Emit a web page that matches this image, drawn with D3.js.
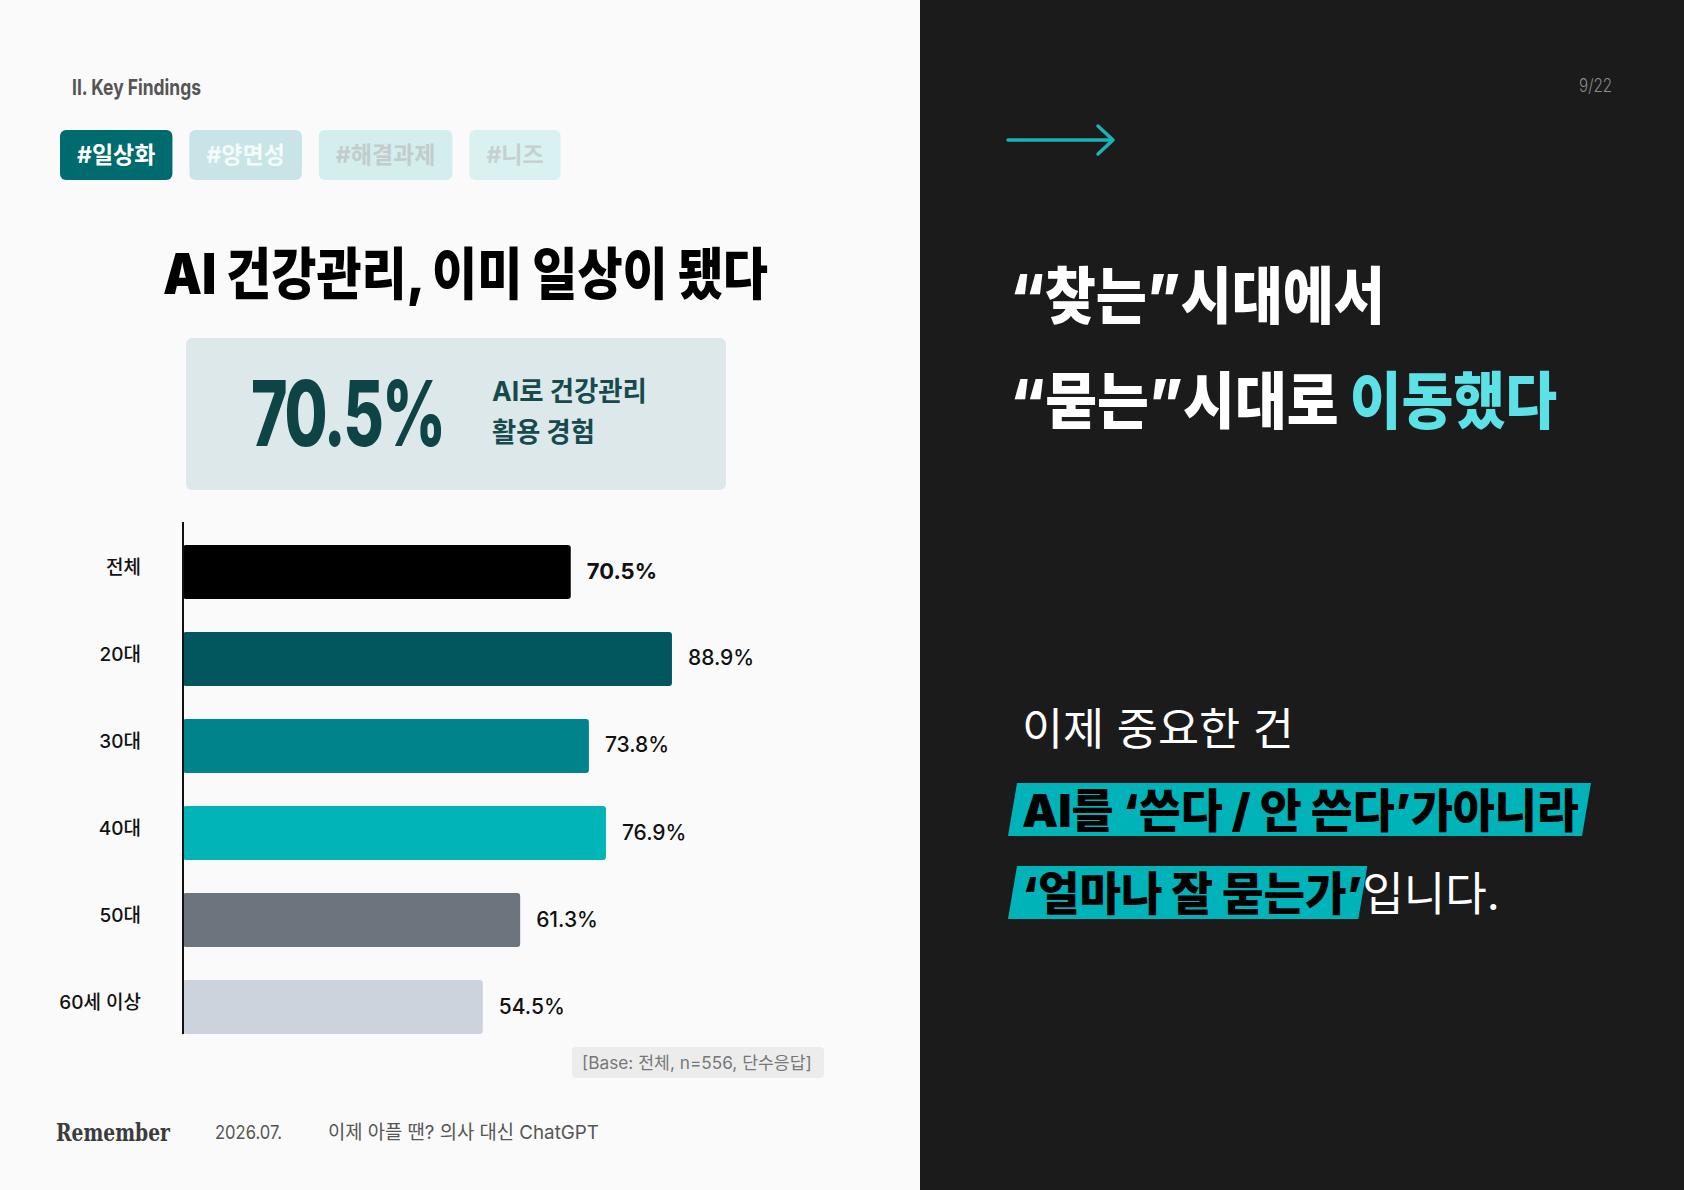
<!DOCTYPE html>
<html lang="ko">
<head>
<meta charset="utf-8">
<script src="https://cdn.jsdelivr.net/npm/d3@7"></script>
<style>
	html, body { margin: 0; padding: 0; background: #fafafa; }
	svg { display: block; }
	text { font-family: Inter, "Noto Sans CJK KR", sans-serif; }
</style>
</head>
<body>
<svg id="slide" width="1684" height="1190"></svg>
<script>
var section = "II. Key Findings";
var page = "9/22";
var tags = ["#일상화", "#양면성", "#해결과제", "#니즈"];
var title = "AI 건강관리, 이미 일상이 됐다";
var headline = "70.5%";
var headlineDesc = ["AI로 건강관리", "활용 경험"];
var categories = ["전체", "20대", "30대", "40대", "50대", "60세 이상"];
var values = [70.5, 88.9, 73.8, 76.9, 61.3, 54.5];
var baseNote = "[Base: 전체, n=556, 단수응답]";
var footer = ["Remember", "2026.07.", "이제 아플 땐? 의사 대신 ChatGPT"];
var shiftLines = [["“찾는”시대에서", ""], ["“묻는”시대로 ", "이동했다"]];
var point = ["이제 중요한 건", "AI를 ‘쓴다 / 안 쓴다’가아니라", "‘얼마나 잘 묻는가’", "입니다."];

var palette = ["#000000", "#02565e", "#00838a", "#00b4b8", "#6c747e", "#ccd3dd"];
var tagStyle = [
	{ bg: "#006b6e", fg: "#ffffff" },
	{ bg: "#c8e4e6", fg: "#f4fbfb" },
	{ bg: "#d4eeee", fg: "#c2cccc" },
	{ bg: "#d9f1f1", fg: "#c6d0d0" }
];

var svg = d3.select("#slide");

// squeeze a text element horizontally to a target width (condensed look)
function fit(t, x, y, len)	{
	var sx = len ? len / t.node().getComputedTextLength() : 1;
	t.attr("transform", `translate(${x},${y}) scale(${sx},1)`);
	return sx;
}

// text helper -- o: { size, weight, fill, anchor, len, family, ls }
function put(parent, s, x, y, o)	{
	var t = parent.append("text")
		.attr("x", 0).attr("y", 0)
		.attr("dominant-baseline", "central")
		.attr("font-size", o.size)
		.attr("font-weight", o.weight || 400)
		.attr("fill", o.fill || "#000")
		.attr("text-anchor", o.anchor || "start")
		.text(s);
	if(o.family)
		t.style("font-family", o.family);
	if(o.ls)
		t.attr("letter-spacing", o.ls);
	fit(t, x, y, o.len);
	return t;
}

// panels
svg.append("rect").attr("x", 0).attr("y", 0).attr("width", 920).attr("height", 1190).attr("fill", "#fafafa");
svg.append("rect").attr("x", 920).attr("y", 0).attr("width", 764).attr("height", 1190).attr("fill", "#1b1b1b");

// ---------- left side ----------
put(svg, section, 72, 87, { size: 22, weight: 700, fill: "#555", len: 129 });

var tx = 60;
tags.forEach((d, i) => {
	var g = svg.append("g");
	var r = g.append("rect");
	var t = put(g, d, 0, 155, { size: 23, weight: 700, fill: tagStyle[i].fg, anchor: "middle" });
	var w = t.node().getComputedTextLength() + 34;
	r.attr("x", tx).attr("y", 130).attr("width", w).attr("height", 50).attr("rx", 6).attr("fill", tagStyle[i].bg);
	fit(t, tx + w / 2, 155);
	tx += w + 17;
});

put(svg, title, 163, 274, { size: 56, weight: 900, fill: "#000", len: 605 });

svg.append("rect").attr("x", 186).attr("y", 338).attr("width", 540).attr("height", 152)
	.attr("rx", 6).attr("fill", "#dce8ea");
put(svg, headline, 251, 413, { size: 90, weight: 800, fill: "#0f4446", len: 193, ls: -3 });
put(svg, headlineDesc[0], 492, 391, { size: 27, weight: 700, fill: "#174a4d", len: 155 });
put(svg, headlineDesc[1], 492, 432, { size: 27, weight: 700, fill: "#174a4d", len: 103 });

// bar chart
var x = d3.scaleLinear([0, 100], [183, 733]);
var y = d3.scaleBand(categories, [545, 1034]).paddingInner(0.38).paddingOuter(0);
var color = d3.scaleOrdinal(categories, palette);

var chart = svg.append("g").attr("class", "chart");

chart.selectAll(".bar")
	.data(categories)
	.join("rect")
		.attr("class", "bar")
		.attr("x", x(0))
		.attr("y", c => y(c))
		.attr("width", (c, i) => x(values[i]) - x(0))
		.attr("height", y.bandwidth())
		.attr("rx", 3)
		.attr("fill", c => color(c));

chart.selectAll(".val")
	.data(categories)
	.join("text")
		.attr("class", "val")
		.attr("x", (c, i) => x(values[i]) + 16)
		.attr("y", c => y(c) + y.bandwidth() / 2 - 1)
		.attr("dominant-baseline", "central")
		.attr("font-size", (c, i) => i === 0 ? 22 : 21)
		.attr("font-weight", (c, i) => i === 0 ? 700 : 500)
		.attr("fill", "#111")
		.text((c, i) => values[i] + "%");

var yaxis = chart.append("g")
	.attr("class", "yaxis")
	.attr("transform", `translate(${x(0)},0)`)
	.call(d3.axisLeft(y).tickSize(0).tickPadding(42));
yaxis.select(".domain").remove();
yaxis.selectAll("text")
	.attr("y", -4)
	.attr("font-size", 19)
	.attr("font-weight", 500)
	.attr("fill", "#111")
	.style("font-family", 'Inter, "Noto Sans CJK KR", sans-serif');

chart.append("line")
	.attr("x1", x(0)).attr("x2", x(0))
	.attr("y1", 522).attr("y2", y.range()[1])
	.attr("stroke", "#111").attr("stroke-width", 2);

// base note
svg.append("rect").attr("x", 572).attr("y", 1047).attr("width", 252).attr("height", 31)
	.attr("rx", 4).attr("fill", "#ececec");
put(svg, baseNote, 582, 1063, { size: 17, fill: "#777", len: 230 });

// footer
put(svg, footer[0], 56, 1132, { size: 25, weight: 700, fill: "#3c3c3c", len: 114, family: '"DejaVu Serif", serif' });
put(svg, footer[1], 215, 1132, { size: 19, weight: 400, fill: "#555", len: 67 });
put(svg, footer[2], 328, 1132, { size: 19, weight: 400, fill: "#555", len: 271 });

// ---------- right side ----------
put(svg, page, 1612, 86, { size: 18, weight: 300, fill: "#8c8c8c", anchor: "end", len: 33 });

var arrow = svg.append("g").attr("fill", "none").attr("stroke", "#1ab3b7")
	.attr("stroke-width", 3.5).attr("stroke-linecap", "round").attr("stroke-linejoin", "round");
arrow.append("line").attr("x1", 1008).attr("x2", 1112).attr("y1", 140).attr("y2", 140);
arrow.append("polyline").attr("points", "1098,126 1113,140 1098,154");

var shiftY = [296, 401], shiftLen = [375, 547];
shiftLines.forEach((parts, i) => {
	var t = svg.append("text")
		.attr("x", 0).attr("y", 0)
		.attr("dominant-baseline", "central")
		.attr("font-size", 62).attr("font-weight", 900);
	t.append("tspan").attr("fill", "#ffffff").text(parts[0]);
	if(parts[1])
		t.append("tspan").attr("fill", "#5ce1e6").text(parts[1]);
	fit(t, 1010, shiftY[i], shiftLen[i]);
});

put(svg, point[0], 1022, 729, { size: 44, weight: 400, fill: "#fff", len: 272 });

// highlighted lines: slanted teal band behind the bold part
function band(x0, x1, cy)	{
	var top = cy - 27, bot = cy + 26, sk = 9;
	svg.insert("polygon", ".hl")
		.attr("points", [[x0 + sk, top], [x1 + sk, top], [x1, bot], [x0, bot]].map(p => p.join(",")).join(" "))
		.attr("fill", "#00b3b8");
}

put(svg, point[1], 1022, 810, { size: 46, weight: 900, fill: "#000", len: 557 }).attr("class", "hl");
band(1008, 1022 + 557 + 3, 810);

var l2 = svg.append("text")
	.attr("class", "hl")
	.attr("x", 0).attr("y", 0)
	.attr("dominant-baseline", "central")
	.attr("font-size", 46);
l2.append("tspan").attr("font-weight", 900).attr("fill", "#000").text(point[2]);
l2.append("tspan").attr("font-weight", 400).attr("fill", "#fff").text(point[3]);
var s2 = fit(l2, 1022, 893, 478);
var endX = 1022 + s2 * l2.node().getEndPositionOfChar(point[2].length - 1).x;
band(1008, endX - 4, 893);
</script>
</body>
</html>
